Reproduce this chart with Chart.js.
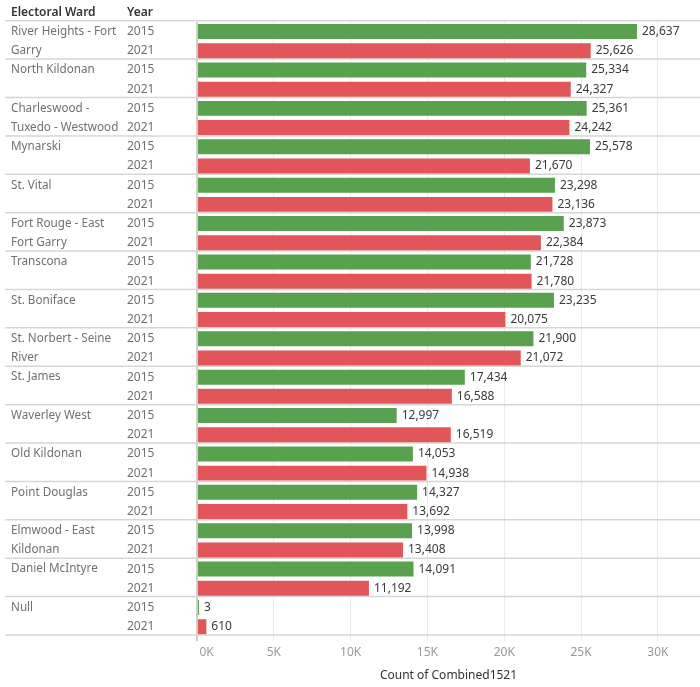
<!DOCTYPE html>
<html>
<head>
<meta charset="utf-8">
<script src="https://cdn.jsdelivr.net/npm/chart.js@4"></script>
<style>
html,body{margin:0;padding:0;background:#fff;}
#wrap{width:700px;height:687px;}
</style>
</head>
<body>
<div id="wrap"><canvas id="c" width="700" height="687"></canvas></div>
<script>
const wards = [
  ["River Heights - Fort","Garry"],
  ["North Kildonan"],
  ["Charleswood -","Tuxedo - Westwood"],
  ["Mynarski"],
  ["St. Vital"],
  ["Fort Rouge - East","Fort Garry"],
  ["Transcona"],
  ["St. Boniface"],
  ["St. Norbert - Seine","River"],
  ["St. James"],
  ["Waverley West"],
  ["Old Kildonan"],
  ["Point Douglas"],
  ["Elmwood - East","Kildonan"],
  ["Daniel McIntyre"],
  ["Null"]
];
const years = ["2015","2021"];
const values2015 = [28637,25334,25361,25578,23298,23873,21728,23235,21900,17434,12997,14053,14327,13998,14091,3];
const values2021 = [25626,24327,24242,21670,23136,22384,21780,20075,21072,16588,16519,14938,13692,13408,11192,610];
const tickValues = [0,5000,10000,15000,20000,25000,30000];
const tickLabels = ["0K","5K","10K","15K","20K","25K","30K"];
const xMax = 32740;

const FONT = "'Noto Sans', sans-serif";
const GREEN = '#59a14f';
const RED = '#e15759';

const labelsPlugin = {
  id: 'tableLabels',
  beforeDraw(chart) {
    // keep the first axis label inside the pane (as Tableau does)
    const items = chart.scales.x.getLabelItems();
    if (items && items[0] && !items[0]._shifted) {
      items[0].options.textAlign = 'left';
      items[0].options.translation = [chart.chartArea.left + 2.5, items[0].options.translation[1]];
      items[0]._shifted = true;
    }
  },
  beforeDatasetsDraw(chart) {
    const ctx = chart.ctx;
    const area = chart.chartArea;
    ctx.save();
    ctx.strokeStyle = '#d6d6d6';
    ctx.lineWidth = 1.5;
    const n = wards.length;
    const pitch = (area.bottom - area.top) / n;
    for (let i = 0; i <= n; i++) {
      const yy = area.top + i * pitch - 1.3;
      ctx.beginPath();
      ctx.moveTo(5, yy);
      ctx.lineTo(700, yy);
      ctx.stroke();
    }
    ctx.restore();
  },
  afterDatasetsDraw(chart) {
    const ctx = chart.ctx;
    const area = chart.chartArea;
    ctx.save();
    ctx.font = "600 12px " + FONT;
    ctx.fillStyle = '#333333';
    ctx.textBaseline = 'middle';
    ctx.textAlign = 'left';
    ctx.fillText('Electoral Ward', 11, 13);
    ctx.fillText('Year', 127, 13);
    const m0 = chart.getDatasetMeta(0);
    const m1 = chart.getDatasetMeta(1);
    wards.forEach((w, i) => {
      const y0 = m0.data[i].y;
      const y1 = m1.data[i].y;
      ctx.font = "11.7px " + FONT;
      ctx.fillStyle = '#707070';
      ctx.fillText(w[0], 11, y0);
      if (w[1]) ctx.fillText(w[1], 11, y1);
      ctx.font = "12px " + FONT;
      ctx.fillText(years[0], 127, y0);
      ctx.fillText(years[1], 127, y1);
      ctx.fillStyle = '#3a3a3a';
      ctx.fillText(values2015[i].toLocaleString('en-US'), Math.max(m0.data[i].x, area.left + 1) + 5, y0);
      ctx.fillText(values2021[i].toLocaleString('en-US'), m1.data[i].x + 5, y1);
    });
    ctx.restore();
  }
};

new Chart(document.getElementById('c'), {
  type: 'bar',
  data: {
    labels: wards.map(w => w.join(' ')),
    datasets: [
      { label: years[0], data: values2015, backgroundColor: GREEN },
      { label: years[1], data: values2021, backgroundColor: RED }
    ]
  },
  options: {
    indexAxis: 'y',
    responsive: false,
    animation: false,
    devicePixelRatio: 1,
    layout: { padding: { left: 197, right: 0, top: 22, bottom: 0 } },
    plugins: { legend: { display: false }, tooltip: { enabled: false } },
    datasets: { bar: { categoryPercentage: 1, barPercentage: 0.78, minBarLength: 2 } },
    scales: {
      y: { display: false, offset: true },
      x: {
        min: 0, max: xMax,
        afterBuildTicks(scale) { scale.ticks = tickValues.map(v => ({ value: v })); },
        afterFit(scale) { scale.height = 50.7; },
        border: { display: false },
        grid: {
          drawTicks: true,
          tickLength: 5,
          color: ctx => ctx.tick && ctx.tick.value === 0 ? '#cfcfcf' : '#ebebeb',
          lineWidth: ctx => ctx.tick && ctx.tick.value === 0 ? 2 : 1
        },
        ticks: {
          autoSkip: false,
          padding: 4,
          maxRotation: 0,
          minRotation: 0,
          color: '#9a9a9a',
          font: { family: FONT, size: 12 },
          callback: (v, i) => tickLabels[tickValues.indexOf(v)]
        },
        title: {
          display: true,
          text: 'Count of Combined1521',
          color: '#333333',
          font: { family: FONT, size: 12 },
          padding: { top: 0, bottom: 4 }
        }
      }
    }
  },
  plugins: [labelsPlugin]
});
</script>
</body>
</html>
